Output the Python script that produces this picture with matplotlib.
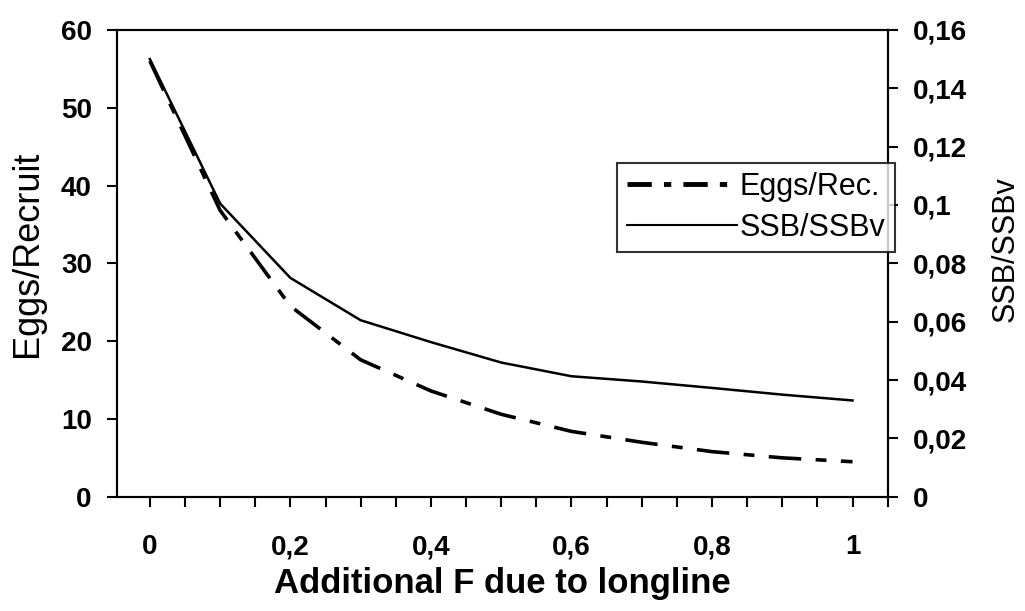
import numpy as np
import matplotlib.pyplot as plt
from matplotlib.ticker import MultipleLocator, FuncFormatter
from matplotlib.lines import Line2D

plt.rcParams['font.family'] = ['Liberation Sans', 'DejaVu Sans']

# Datos
f_add = [0.0, 0.1, 0.2, 0.3, 0.4, 0.5, 0.6, 0.7, 0.8, 0.9, 1.0]
eggs_rec = [56.0, 36.8, 24.5, 17.6, 13.6, 10.6, 8.4, 7.0, 5.8, 5.0, 4.5]
ssb_ssbv = [0.150, 0.1005, 0.075, 0.0605, 0.053, 0.046, 0.0413, 0.0395, 0.0373, 0.035, 0.033]

def coma(v, pos):
    s = ('%.2f' % v).rstrip('0').rstrip('.')
    return s.replace('.', ',')

fig = plt.figure(figsize=(10.25, 6.11), dpi=100)
ax = fig.add_axes([0.114, 0.187, 0.752, 0.764])
ax2 = ax.twinx()

ax.plot(f_add, eggs_rec, color='black', lw=2.6, linestyle=(0, (9, 4, 3, 4)))
ax2.plot(f_add, ssb_ssbv, color='black', lw=1.8)

ax.set_xlim(-0.047, 1.05)
ax.set_ylim(0, 60)
ax2.set_ylim(0, 0.16)

ax.xaxis.set_major_locator(MultipleLocator(0.2))
ax.xaxis.set_minor_locator(MultipleLocator(0.05))
ax.yaxis.set_major_locator(MultipleLocator(10))
ax2.yaxis.set_major_locator(MultipleLocator(0.02))
ax.xaxis.set_major_formatter(FuncFormatter(coma))
ax2.yaxis.set_major_formatter(FuncFormatter(coma))

for a in (ax, ax2):
    a.tick_params(which='both', direction='out', width=1.5, colors='black')
    a.tick_params(which='major', length=7, labelsize=20, pad=11)
    a.tick_params(which='minor', length=7)
    for sp in a.spines.values():
        sp.set_linewidth(1.5)
    for lab in a.get_xticklabels() + a.get_yticklabels():
        lab.set_fontweight('bold')
ax.tick_params(axis='x', which='major', pad=20)

ax.set_xlabel('Additional F due to longline', fontsize=25, fontweight='bold')
ax.set_ylabel('Eggs/Recruit', fontsize=26)
ax2.set_ylabel('SSB/SSBv', fontsize=22)
ax.xaxis.set_label_coords(0.5, -0.15)
ax.yaxis.set_label_coords(-0.093, 0.52)
ax2.yaxis.set_label_coords(1.134, 0.53)

handles = [Line2D([], [], color='black', lw=3.5, linestyle=(0, (5, 2.5, 1.5, 2.5))),
           Line2D([], [], color='black', lw=1.5)]
leg = ax2.legend(handles, ['Eggs/Rec.', 'SSB/SSBv'], loc='upper right',
                 bbox_to_anchor=(1.009, 0.715), fontsize=22, frameon=True,
                 fancybox=False, edgecolor='black', handlelength=3.6,
                 handletextpad=0.1, borderpad=0.3, labelspacing=0.35,
                 borderaxespad=0)
leg.get_frame().set_linewidth(1.5)
leg.set_zorder(10)

fig.savefig('out.png', dpi=100)
